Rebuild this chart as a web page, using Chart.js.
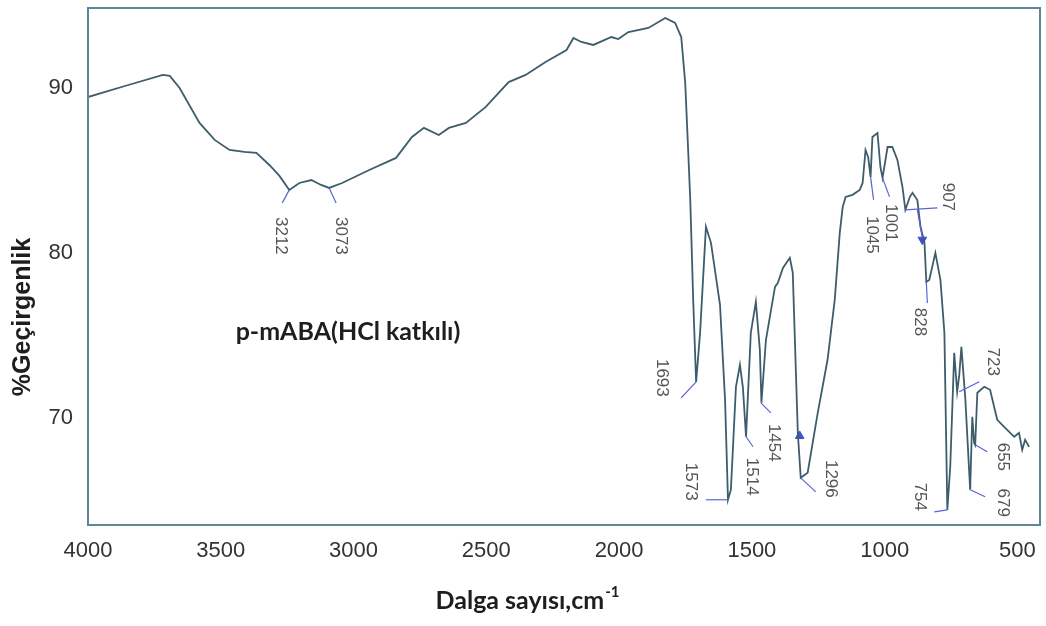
<!DOCTYPE html>
<html lang="tr">
<head>
<meta charset="UTF-8">
<title>p-mABA (HCl katkılı) FTIR</title>
<script src="https://cdn.jsdelivr.net/npm/chart.js"></script>
<style>
  body { margin: 0; background: #fff; }
  canvas { display: block; }
</style>
</head>
<body>
<canvas id="ir" width="1046" height="626"></canvas>
<script>
// spectrum (wavenumber in cm-1, % transmittance)
const wavenumber = [
  4000, 3861, 3718, 3692, 3655, 3580, 3523, 3467, 3411, 3366, 3317, 3279, 3242, 3204, 3159, 3122, 3092, 3043,
  2941, 2840, 2780, 2735, 2679, 2641, 2577, 2502, 2416, 2352, 2277, 2198, 2172, 2142, 2097, 2029, 2003, 1965,
  1890, 1826, 1789, 1766, 1751, 1740, 1732, 1721, 1710, 1695, 1673, 1654, 1620, 1601, 1590, 1579, 1560, 1545,
  1534, 1522, 1504, 1485, 1470, 1464, 1447, 1413, 1402, 1383, 1357, 1346, 1327, 1316, 1290, 1252, 1215, 1188,
  1169, 1158, 1147, 1121, 1094, 1083, 1072, 1062, 1053, 1046, 1027, 1016, 1008, 989, 971, 952, 933, 922,
  905, 895, 877, 865, 850, 843, 832, 809, 790, 775, 764, 753, 738, 727, 719, 711, 696, 678,
  670, 663, 659, 651, 625, 603, 576, 550, 512, 494, 482, 471, 456
];
const transmittance = [
  89.45, 90.12, 90.79, 90.73, 90.0, 87.88, 86.85, 86.24, 86.12, 86.06, 85.33, 84.67, 83.82, 84.24, 84.42, 84.12, 83.94, 84.24,
  85.03, 85.76, 87.03, 87.58, 87.15, 87.58, 87.88, 88.85, 90.36, 90.79, 91.58, 92.30, 93.03, 92.79, 92.61, 93.09, 92.97, 93.39,
  93.64, 94.24, 93.94, 93.09, 90.30, 86.24, 83.21, 77.15, 72.18, 75.15, 81.58, 80.61, 76.85, 71.09, 65.03, 65.64, 71.88, 73.21,
  71.88, 68.85, 75.15, 77.03, 74.12, 70.91, 74.73, 77.94, 78.18, 79.09, 79.70, 78.79, 69.09, 66.36, 66.67, 70.30, 73.52, 77.15,
  81.21, 82.79, 83.39, 83.52, 83.82, 84.24, 86.24, 85.8, 84.61, 87.03, 87.27, 85.21, 84.55, 86.42, 86.42, 85.64, 84.0, 82.61,
  83.4, 83.64, 83.21, 81.58, 80.61, 78.24, 78.36, 80.0, 78.36, 75.15, 64.42, 67.03, 73.94, 71.58, 72.6, 74.30, 71.09, 65.64,
  70.06, 68.48, 68.36, 71.52, 71.88, 71.70, 69.88, 69.45, 68.85, 69.09, 68.06, 68.67, 68.24
];

const xTicks = [4000, 3500, 3000, 2500, 2000, 1500, 1000, 500];
const yTicks = [70, 80, 90];

// labelled peaks
const peakLabels = ['3212', '3073', '1693', '1573', '1514', '1454', '1296', '754', '679', '655', '723', '828', '907', '1045', '1001'];
const peakX = [3242, 3092, 1710, 1590, 1522, 1466, 1316, 764, 678, 659, 719, 843, 922, 1053, 1008];
const peakY = [83.82, 83.94, 72.18, 65.03, 68.85, 70.91, 66.36, 64.42, 65.64, 68.36, 71.58, 78.24, 82.61, 84.61, 84.55];

// blue cursor marks
const markerX = [1320, 858];
const markerY = [68.9, 80.8];

// leader / text offsets in px: [leader dx, leader dy, text dx, text dy]
const peakOffsets = [
  [-7, 13, -9, 46], [7, 15, 12, 48], [-15, 16, -34, -4], [-22, 0, -37, -18], [7, 10, 6, 40],
  [10, 10, 13, 40], [15, 14, 30, 1], [-13, 2, -28, -13], [15, 7, 33, 13], [12, 7, 27, 12],
  [20, -10, 33, -30], [1, 21, -7, 40], [32, -2, 42, -13], [3, 23, 1, 58], [7, 19, 8, 45]
];

const lineColor = '#3e5d6b';
const frameColor = '#5f8597';
const labelBlue = '#5a63d6';

const spectrum = wavenumber.map((w, i) => ({ x: w, y: transmittance[i] }));
const markers = markerX.map((w, i) => ({ x: w, y: markerY[i] }));

const framePlugin = {
  id: 'frame',
  afterDatasetsDraw(chart) {
    const { ctx, chartArea: a } = chart;
    ctx.save();
    ctx.strokeStyle = frameColor;
    ctx.lineWidth = 2;
    ctx.strokeRect(a.left, a.top, a.right - a.left, a.bottom - a.top);
    ctx.restore();
  }
};

const peakPlugin = {
  id: 'peaks',
  afterDatasetsDraw(chart) {
    const { ctx } = chart;
    const xs = chart.scales.x, ys = chart.scales.y;
    ctx.save();
    ctx.font = '17px "Liberation Sans"';
    ctx.textAlign = 'center';
    ctx.textBaseline = 'middle';
    peakLabels.forEach((txt, i) => {
      const px = xs.getPixelForValue(peakX[i]);
      const py = ys.getPixelForValue(peakY[i]);
      const o = peakOffsets[i];
      ctx.strokeStyle = labelBlue;
      ctx.lineWidth = 1.2;
      ctx.beginPath();
      ctx.moveTo(px, py);
      ctx.lineTo(px + o[0], py + o[1]);
      ctx.stroke();
      ctx.save();
      ctx.translate(px + o[2], py + o[3]);
      ctx.rotate(Math.PI / 2);
      ctx.fillStyle = '#555';
      ctx.fillText(txt, 0, 0);
      ctx.restore();
    });
    // arrow from the 907 marker down the slope
    const ax = xs.getPixelForValue(peakX[12]), ay = ys.getPixelForValue(peakY[12]);
    ctx.beginPath();
    ctx.moveTo(ax + 12, ay);
    ctx.lineTo(ax + 17, ay + 28);
    ctx.stroke();
    ctx.restore();
  }
};

const textPlugin = {
  id: 'texts',
  afterDraw(chart) {
    const { ctx } = chart;
    ctx.save();
    ctx.fillStyle = '#1e1e1e';
    ctx.textBaseline = 'middle';
    // sample name
    ctx.font = 'bold 25px Lato';
    ctx.textAlign = 'center';
    ctx.fillText('p-mABA(HCl katkılı)', 348, 332);
    // y title
    ctx.save();
    ctx.translate(23, 317);
    ctx.rotate(-Math.PI / 2);
    ctx.font = 'bold 25px "Liberation Sans"';
    ctx.fillText('%Geçirgenlik', 0, 0);
    ctx.restore();
    // x title with superscript
    ctx.font = 'bold 25px Lato';
    const main = 'Dalga sayısı,cm';
    const wMain = ctx.measureText(main).width;
    ctx.font = 'bold 15px Lato';
    const sup = '-1';
    const wSup = ctx.measureText(sup).width;
    const x0 = 527 - (wMain + wSup) / 2;
    ctx.textAlign = 'left';
    ctx.font = 'bold 25px Lato';
    ctx.fillText(main, x0, 601);
    ctx.font = 'bold 15px Lato';
    ctx.fillText(sup, x0 + wMain + 1, 592);
    ctx.restore();
  }
};

new Chart(document.getElementById('ir'), {
  type: 'line',
  data: {
    datasets: [
      {
        data: spectrum,
        borderColor: lineColor,
        borderWidth: 1.8,
        pointRadius: 0,
        tension: 0
      },
      {
        type: 'scatter',
        data: markers,
        pointStyle: 'triangle',
        pointRadius: 5,
        backgroundColor: '#3f4fd8',
        borderColor: '#3f4fd8',
        rotation: [0, 180]
      }
    ]
  },
  options: {
    responsive: false,
    animation: false,
    layout: { padding: { top: 8, right: 3, left: 0, bottom: 0 } },
    plugins: {
      legend: { display: false },
      tooltip: { enabled: false }
    },
    scales: {
      x: {
        type: 'linear',
        reverse: true,
        min: 415,
        max: 4000,
        afterBuildTicks: s => { s.ticks = xTicks.map(v => ({ value: v })); },
        afterFit: s => { s.height = 101; s.paddingLeft = 0; s.paddingRight = 0; },
        grid: { display: false },
        border: { display: false },
        ticks: {
          autoSkip: false,
          maxRotation: 0,
          padding: 5,
          color: '#333',
          font: { family: 'Liberation Sans', size: 22 },
          callback: v => String(v)
        }
      },
      y: {
        min: 63.5,
        max: 94.85,
        afterBuildTicks: s => { s.ticks = yTicks.map(v => ({ value: v })); },
        afterFit: s => { s.width = 88; s.paddingTop = 0; s.paddingBottom = 0; },
        grid: { display: false },
        border: { display: false },
        ticks: {
          padding: 7,
          color: '#333',
          font: { family: 'Liberation Sans', size: 22 }
        }
      }
    }
  },
  plugins: [framePlugin, peakPlugin, textPlugin]
});
</script>
</body>
</html>
